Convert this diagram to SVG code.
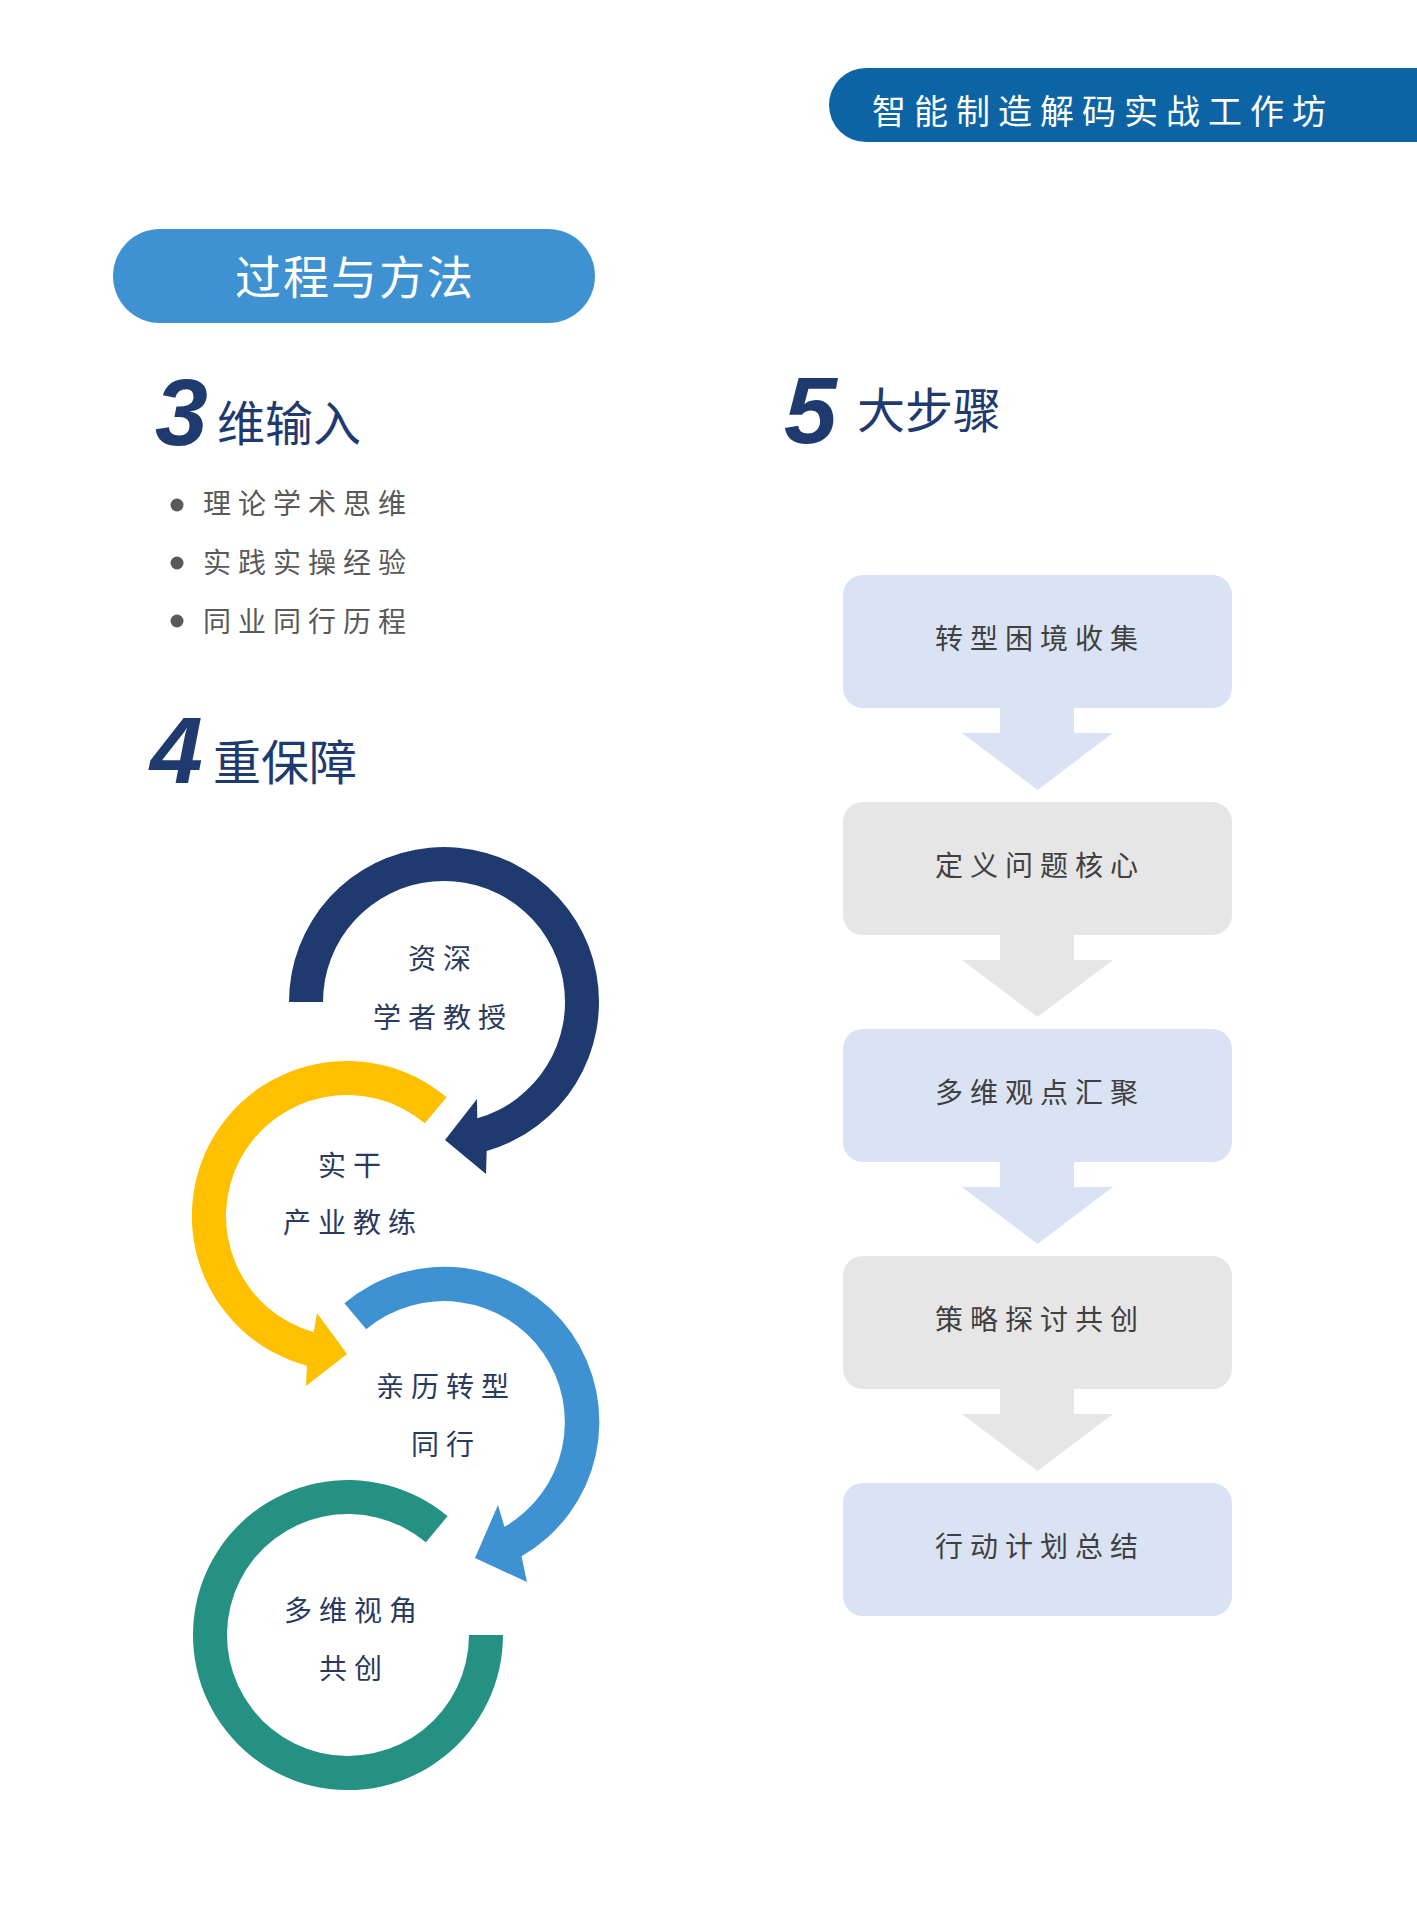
<svg xmlns="http://www.w3.org/2000/svg" width="1417" height="1920" viewBox="0 0 1417 1920">
<style>
.cjk{font-family:"Noto Sans CJK SC","Noto Sans",sans-serif;}
.num{font-family:"Liberation Sans",Arial,sans-serif;font-weight:bold;font-style:italic;font-size:95px;fill:#1F3A6E;}
.head{font-size:48px;fill:#1F3A6E;}
.bullet{font-size:28px;fill:#595959;letter-spacing:7px;}
.step{font-size:28px;fill:#404040;letter-spacing:7px;text-anchor:middle;}
.lbl{font-size:28px;fill:#2A3A5E;letter-spacing:7px;text-anchor:middle;}
.blueBox{fill:#DAE3F3;}
.grayBox{fill:#E6E6E6;}
</style>
<rect width="1417" height="1920" fill="#FFFFFF"/>

<g id="header">
<path d="M866,68 H1417 V142 H866 A37,37 0 0 1 866,68 Z" fill="#0C64A4"/>
<text class="cjk" x="872" y="124" font-size="34" fill="#FFFFFF" letter-spacing="8">智能制造解码实战工作坊</text>
</g>

<g id="title">
<rect x="113" y="229" width="482" height="94" rx="47" fill="#3F92D2"/>
<text class="cjk" x="355" y="294" font-size="46" fill="#FFFFFF" letter-spacing="2" text-anchor="middle">过程与方法</text>
</g>

<g id="heading-3">
<text class="num" x="155" y="445">3</text>
<text class="cjk head" x="217" y="441">维输入</text>
</g>

<g id="inputs">
<circle cx="177" cy="505" r="6.5" fill="#595959"/>
<text class="cjk bullet" x="203" y="514">理论学术思维</text>
<circle cx="177" cy="563" r="6.5" fill="#595959"/>
<text class="cjk bullet" x="203" y="573">实践实操经验</text>
<circle cx="177" cy="621" r="6.5" fill="#595959"/>
<text class="cjk bullet" x="203" y="632">同业同行历程</text>
</g>

<g id="heading-4">
<text class="num" x="150" y="783">4</text>
<text class="cjk head" x="213" y="780">重保障</text>
</g>

<g id="heading-5">
<text class="num" x="784" y="443">5</text>
<text class="cjk head" x="857" y="428">大步骤</text>
</g>

<g id="guarantee-1">
<path d="M289,1002 A155,155 0 1 1 486.7,1151 L486,1174 L445,1140 L477,1099 L477.3,1118.3 A121,121 0 1 0 323,1002 Z" fill="#1F3A6E"/>
<text class="cjk lbl" x="443" y="969">资深</text>
<text class="cjk lbl" x="443" y="1028">学者教授</text>
</g>

<g id="guarantee-2">
<path d="M446.6,1097.3 A155,155 0 1 0 306.9,1365.7 L306,1386 L347,1354 L317,1313 L313.7,1332.3 A121,121 0 1 1 424.8,1123.3 Z" fill="#FFC000"/>
<text class="cjk lbl" x="353" y="1176">实干</text>
<text class="cjk lbl" x="353" y="1233">产业教练</text>
</g>

<g id="guarantee-3">
<path d="M344.4,1303.3 A155,155 0 1 1 521.5,1556.2 L527,1582 L475,1558 L498,1505 L504.5,1526.8 A121,121 0 1 0 366.2,1329.3 Z" fill="#3F92D2"/>
<text class="cjk lbl" x="446" y="1397">亲历转型</text>
<text class="cjk lbl" x="446" y="1455">同行</text>
</g>

<g id="guarantee-4">
<path d="M447.6,1516.3 A155,155 0 1 0 503,1635 L469,1635 A121,121 0 1 1 425.8,1542.3 Z" fill="#259182"/>
<text class="cjk lbl" x="354" y="1621">多维视角</text>
<text class="cjk lbl" x="354" y="1679">共创</text>
</g>

<g id="connectors">
<polygon class="blueBox" points="1000,700 1074,700 1074,733 1113,733 1037.5,790 962,733 1000,733"/>
<polygon class="grayBox" points="1000,927 1074,927 1074,960 1113,960 1037.5,1017 962,960 1000,960"/>
<polygon class="blueBox" points="1000,1154 1074,1154 1074,1187 1113,1187 1037.5,1244 962,1187 1000,1187"/>
<polygon class="grayBox" points="1000,1381 1074,1381 1074,1414 1113,1414 1037.5,1471 962,1414 1000,1414"/>
</g>

<g id="step-1">
<rect class="blueBox" x="843" y="575" width="389" height="133" rx="20"/>
<text class="cjk step" x="1040" y="649">转型困境收集</text>
</g>
<g id="step-2">
<rect class="grayBox" x="843" y="802" width="389" height="133" rx="20"/>
<text class="cjk step" x="1040" y="876">定义问题核心</text>
</g>
<g id="step-3">
<rect class="blueBox" x="843" y="1029" width="389" height="133" rx="20"/>
<text class="cjk step" x="1040" y="1103">多维观点汇聚</text>
</g>
<g id="step-4">
<rect class="grayBox" x="843" y="1256" width="389" height="133" rx="20"/>
<text class="cjk step" x="1040" y="1330">策略探讨共创</text>
</g>
<g id="step-5">
<rect class="blueBox" x="843" y="1483" width="389" height="133" rx="20"/>
<text class="cjk step" x="1040" y="1557">行动计划总结</text>
</g>
</svg>
